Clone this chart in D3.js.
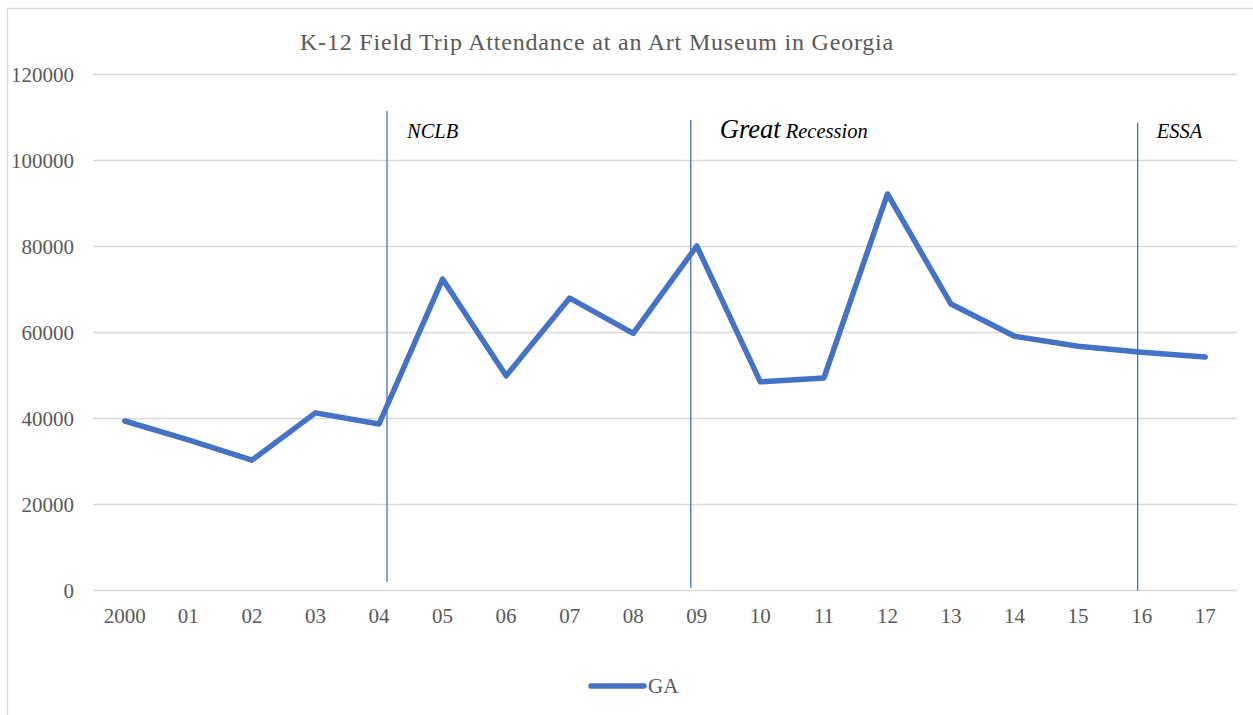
<!DOCTYPE html>
<html>
<head>
<meta charset="utf-8">
<script src="https://cdn.jsdelivr.net/npm/d3@7"></script>
<style>
  body { margin: 0; background: #fff; }
  svg { display: block; font-family: "Liberation Serif", "Times New Roman", serif; }
</style>
</head>
<body>
<svg id="chart"></svg>
<script>
// school years on the x axis
const years = ["2000", "01", "02", "03", "04", "05", "06", "07", "08", "09",
               "10", "11", "12", "13", "14", "15", "16", "17"];

// K-12 field trip attendance, GA
const attendance = [39300, 34900, 30200, 41200, 38600, 72300, 49800, 67900, 59700, 80000,
                    48400, 49300, 92100, 66500, 59000, 56700, 55300, 54200];

const yTicks = [0, 20000, 40000, 60000, 80000, 100000, 120000];

// policy / economy events marked with a vertical line
const eventYears = ["04", "09", "16"];
const eventNames = ["NCLB", "Great Recession", "ESSA"];

const seriesName = "GA";
const chartTitle = "K-12 Field Trip Attendance at an Art Museum in Georgia";

class LineChart {
    constructor(_config) {
        this.config = {
            parentElement: _config.parentElement,
            containerWidth: _config.containerWidth || 1253,
            containerHeight: _config.containerHeight || 715,
            margin: {top: 74, right: 16, bottom: 125, left: 93}
        };
        this.initVis();
    }

    initVis() {
        let vis = this;

        vis.width = vis.config.containerWidth - vis.config.margin.left - vis.config.margin.right;
        vis.height = vis.config.containerHeight - vis.config.margin.top - vis.config.margin.bottom;

        vis.svg = d3.select(vis.config.parentElement)
            .attr('width', vis.config.containerWidth)
            .attr('height', vis.config.containerHeight);

        // chart area frame (runs off the right / bottom edge like the screenshot)
        vis.svg.append('rect')
            .attr('x', 7.5)
            .attr('y', 8.5)
            .attr('width', vis.config.containerWidth)
            .attr('height', vis.config.containerHeight)
            .attr('fill', 'none')
            .attr('stroke', '#d9d9d9')
            .attr('stroke-width', 1.3);

        vis.chart = vis.svg.append('g')
            .attr('transform', `translate(${vis.config.margin.left}, ${vis.config.margin.top})`);

        vis.xScale = d3.scaleBand()
            .domain(years)
            .range([0, vis.width]);

        vis.yScale = d3.scaleLinear()
            .domain([0, 120000])
            .range([vis.height, 0]);

        vis.updateVis();
    }

    updateVis() {
        let vis = this;
        const x = d => vis.xScale(d) + vis.xScale.bandwidth() / 2;

        // gridlines + y labels
        vis.yAxis = d3.axisLeft(vis.yScale)
            .tickValues(yTicks)
            .tickSize(-vis.width)
            .tickPadding(19)
            .tickFormat(d3.format('d'));

        vis.yAxisGroup = vis.chart.append('g')
            .attr('class', 'axis y-axis')
            .call(vis.yAxis);
        vis.yAxisGroup.select('.domain').remove();
        vis.yAxisGroup.selectAll('line')
            .attr('stroke', '#d9d9d9')
            .attr('stroke-width', 1.3);
        vis.yAxisGroup.selectAll('text')
            .attr('fill', '#595959')
            .attr('font-size', 21)
            .attr('dy', '0.38em');

        // category labels
        vis.xAxis = d3.axisBottom(vis.xScale).tickSize(0).tickPadding(18);
        vis.xAxisGroup = vis.chart.append('g')
            .attr('class', 'axis x-axis')
            .attr('transform', `translate(0, ${vis.height})`)
            .call(vis.xAxis);
        vis.xAxisGroup.select('.domain').remove();
        vis.xAxisGroup.selectAll('text')
            .attr('fill', '#595959')
            .attr('font-size', 21);

        vis.svg.selectAll('.axis').attr('font-family', null);

        // event markers, nudged a little off the category centre as in the original
        const eventNudge = [8, -6, -4];
        const eventTop = [111400, 109300, 108600];
        const eventBottom = [1900, 500, -200];
        const labelGap = [20, 29, 19];

        vis.chart.selectAll('.event-line')
            .data(eventYears)
        .join('line')
            .attr('class', 'event-line')
            .attr('x1', (d, i) => x(d) + eventNudge[i])
            .attr('x2', (d, i) => x(d) + eventNudge[i])
            .attr('y1', (d, i) => vis.yScale(eventTop[i]))
            .attr('y2', (d, i) => vis.yScale(eventBottom[i]))
            .attr('stroke', '#4472c4')
            .attr('stroke-width', 1.3);

        const labels = vis.chart.selectAll('.event-label')
            .data(eventYears)
        .join('text')
            .attr('class', 'event-label')
            .attr('x', (d, i) => x(d) + eventNudge[i] + labelGap[i])
            .attr('y', 64)
            .attr('font-style', 'italic')
            .attr('fill', '#000')
            .attr('font-size', 20.5);

        labels.each(function(d, i) {
            const t = d3.select(this);
            if (eventNames[i] === "Great Recession") {
                // first word is set larger than the rest
                const words = eventNames[i].split(' ');
                t.append('tspan').attr('font-size', 26.5).text(words[0]);
                t.append('tspan').attr('font-size', 20.5).text(' ' + words.slice(1).join(' '));
            } else {
                t.text(eventNames[i]);
            }
        });

        // the series
        vis.line = d3.line()
            .x((d, i) => x(years[i]))
            .y(d => vis.yScale(d));

        vis.chart.append('path')
            .datum(attendance)
            .attr('fill', 'none')
            .attr('stroke', '#4472c4')
            .attr('stroke-width', 5.5)
            .attr('stroke-linejoin', 'round')
            .attr('stroke-linecap', 'round')
            .attr('d', vis.line);

        // title
        vis.svg.append('text')
            .attr('x', 597)
            .attr('y', 50)
            .attr('text-anchor', 'middle')
            .attr('fill', '#595959')
            .attr('font-size', 24)
            .attr('letter-spacing', 0.8)
            .text(chartTitle);

        // legend
        const legend = vis.svg.append('g')
            .attr('transform', 'translate(591, 686)');
        legend.append('line')
            .attr('x1', 0).attr('x2', 53)
            .attr('stroke', '#4472c4')
            .attr('stroke-width', 5.5)
            .attr('stroke-linecap', 'round');
        legend.append('text')
            .attr('x', 57)
            .attr('y', 7)
            .attr('fill', '#595959')
            .attr('font-size', 21)
            .text(seriesName);
    }
}

new LineChart({parentElement: '#chart'});
</script>
</body>
</html>
